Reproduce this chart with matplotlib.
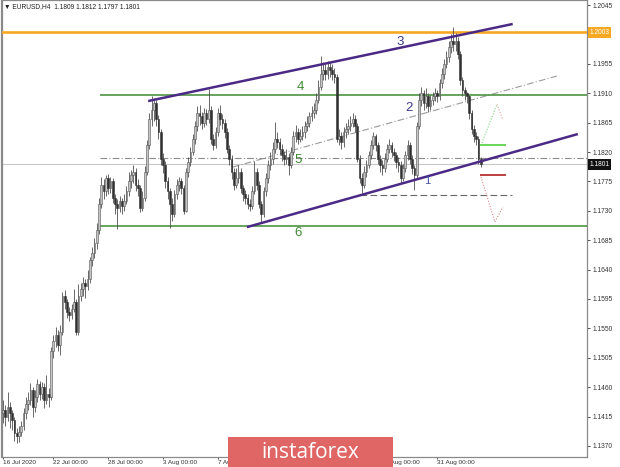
import matplotlib
matplotlib.use('Agg')
from matplotlib import pyplot as plt
from matplotlib.patches import Rectangle

# EURUSD H4 closes, one per bar (16 Jul 2020 -> 3 Sep 2020)
closes = [
    1.1425, 1.1415, 1.1430, 1.1420, 1.1410, 1.1390, 1.1385, 1.1392, 1.1400, 1.1420,
    1.1435, 1.1440, 1.1455, 1.1430, 1.1445, 1.1465, 1.1450, 1.1460, 1.1440, 1.1450,
    1.1445, 1.1515, 1.1530, 1.1540, 1.1525, 1.1545, 1.1600, 1.1590, 1.1575, 1.1570,
    1.1580, 1.1590, 1.1545, 1.1600, 1.1610, 1.1620, 1.1615, 1.1625, 1.1655, 1.1665,
    1.1680, 1.1700, 1.1740, 1.1770, 1.1760, 1.1780, 1.1765, 1.1775, 1.1750, 1.1740,
    1.1735, 1.1745, 1.1738, 1.1745, 1.1760, 1.1775, 1.1785, 1.1790, 1.1770, 1.1765,
    1.1735, 1.1750, 1.1790, 1.1830, 1.1870, 1.1885, 1.1895, 1.1870, 1.1850, 1.1810,
    1.1800, 1.1775, 1.1760, 1.1740, 1.1725, 1.1755, 1.1770, 1.1775, 1.1765, 1.1730,
    1.1790, 1.1805, 1.1820, 1.1840, 1.1860, 1.1880, 1.1875, 1.1865, 1.1880, 1.1870,
    1.1885, 1.1840, 1.1830, 1.1850, 1.1880, 1.1870, 1.1865, 1.1850, 1.1825, 1.1810,
    1.1790, 1.1770, 1.1780, 1.1790, 1.1765, 1.1755, 1.1750, 1.1740, 1.1738, 1.1760,
    1.1790, 1.1770, 1.1740, 1.1725, 1.1760, 1.1780, 1.1800, 1.1810, 1.1825, 1.1840,
    1.1835, 1.1825, 1.1815, 1.1810, 1.1812, 1.1800, 1.1820, 1.1845, 1.1850, 1.1840,
    1.1845, 1.1850, 1.1860, 1.1865, 1.1875, 1.1880, 1.1885, 1.1900, 1.1920, 1.1940,
    1.1945, 1.1940, 1.1950, 1.1945, 1.1940, 1.1935, 1.1840, 1.1845, 1.1835, 1.1850,
    1.1855, 1.1860, 1.1865, 1.1870, 1.1860, 1.1810, 1.1780, 1.1770, 1.1790, 1.1800,
    1.1815, 1.1830, 1.1845, 1.1830, 1.1810, 1.1800, 1.1795, 1.1810, 1.1825, 1.1830,
    1.1820, 1.1815, 1.1805, 1.1800, 1.1780, 1.1795, 1.1815, 1.1830, 1.1810, 1.1795,
    1.1785, 1.1860, 1.1900, 1.1910, 1.1895, 1.1905, 1.1890, 1.1900, 1.1905, 1.1910,
    1.1905, 1.1925, 1.1940, 1.1955, 1.1965, 1.1980, 1.1990, 1.1985, 1.1990, 1.1970,
    1.1930, 1.1915, 1.1910, 1.1905, 1.1880, 1.1855, 1.1845, 1.1840, 1.1809, 1.1801,
]
highs = [
    1.1440, 1.1432, 1.1452, 1.1438, 1.1425, 1.1415, 1.1398, 1.1400, 1.1408, 1.1428,
    1.1445, 1.1452, 1.1466, 1.1460, 1.1455, 1.1472, 1.1470, 1.1468, 1.1466, 1.1478,
    1.1458, 1.1522, 1.1540, 1.1552, 1.1548, 1.1555, 1.1606, 1.1608, 1.1595, 1.1582,
    1.1588, 1.1610, 1.1595, 1.1618, 1.1620, 1.1628, 1.1626, 1.1640, 1.1660, 1.1675,
    1.1688, 1.1712, 1.1750, 1.1782, 1.1778, 1.1785, 1.1786, 1.1782, 1.1780, 1.1756,
    1.1748, 1.1752, 1.1750, 1.1755, 1.1768, 1.1790, 1.1792, 1.1800, 1.1795, 1.1778,
    1.1770, 1.1760, 1.1798, 1.1838, 1.1880, 1.1906, 1.1903, 1.1900, 1.1876, 1.1855,
    1.1818, 1.1806, 1.1782, 1.1765, 1.1750, 1.1762, 1.1778, 1.1782, 1.1780, 1.1770,
    1.1796, 1.1812, 1.1828, 1.1848, 1.1868, 1.1890, 1.1892, 1.1882, 1.1888, 1.1886,
    1.1917, 1.1890, 1.1848, 1.1858, 1.1888, 1.1892, 1.1878, 1.1870, 1.1856, 1.1830,
    1.1815, 1.1795, 1.1795, 1.1800, 1.1795, 1.1770, 1.1762, 1.1756, 1.1748, 1.1768,
    1.1806, 1.1795, 1.1775, 1.1745, 1.1766, 1.1788, 1.1808, 1.1820, 1.1835, 1.1866,
    1.1850, 1.1842, 1.1832, 1.1822, 1.1825, 1.1818, 1.1828, 1.1852, 1.1862, 1.1856,
    1.1855, 1.1860, 1.1868, 1.1875, 1.1882, 1.1890, 1.1895, 1.1910, 1.1930, 1.1967,
    1.1958, 1.1955, 1.1960, 1.1958, 1.1955, 1.1948, 1.1940, 1.1855, 1.1850, 1.1858,
    1.1865, 1.1870, 1.1875, 1.1880, 1.1876, 1.1865, 1.1815, 1.1788, 1.1798, 1.1808,
    1.1822, 1.1838, 1.1850, 1.1848, 1.1835, 1.1815, 1.1808, 1.1818, 1.1832, 1.1840,
    1.1836, 1.1826, 1.1820, 1.1812, 1.1806, 1.1802, 1.1822, 1.1838, 1.1835, 1.1815,
    1.1800, 1.1866, 1.1910, 1.1920, 1.1915, 1.1918, 1.1910, 1.1908, 1.1912, 1.1918,
    1.1915, 1.1932, 1.1948, 1.1962, 1.1975, 1.1990, 1.2000, 1.2011, 1.2002, 1.1996,
    1.1975, 1.1935, 1.1920, 1.1912, 1.1908, 1.1885, 1.1862, 1.1850, 1.1845, 1.1812,
]
lows = [
    1.1405, 1.1400, 1.1408, 1.1398, 1.1395, 1.1378, 1.1374, 1.1376, 1.1385, 1.1395,
    1.1412, 1.1425, 1.1432, 1.1415, 1.1422, 1.1438, 1.1440, 1.1442, 1.1428, 1.1435,
    1.1430, 1.1440, 1.1505, 1.1522, 1.1515, 1.1510, 1.1540, 1.1580, 1.1566, 1.1562,
    1.1565, 1.1575, 1.1540, 1.1540, 1.1592, 1.1600, 1.1596, 1.1608, 1.1620, 1.1645,
    1.1658, 1.1672, 1.1695, 1.1735, 1.1748, 1.1752, 1.1755, 1.1758, 1.1742, 1.1725,
    1.1702, 1.1728, 1.1725, 1.1730, 1.1740, 1.1752, 1.1765, 1.1772, 1.1760, 1.1752,
    1.1728, 1.1730, 1.1745, 1.1785, 1.1825, 1.1860, 1.1868, 1.1860, 1.1840, 1.1800,
    1.1788, 1.1765, 1.1748, 1.1703, 1.1715, 1.1720, 1.1748, 1.1760, 1.1755, 1.1725,
    1.1728, 1.1782, 1.1798, 1.1815, 1.1832, 1.1852, 1.1862, 1.1855, 1.1858, 1.1862,
    1.1865, 1.1832, 1.1823, 1.1826, 1.1845, 1.1862, 1.1855, 1.1842, 1.1818, 1.1800,
    1.1778, 1.1762, 1.1765, 1.1772, 1.1758, 1.1745, 1.1740, 1.1732, 1.1730, 1.1733,
    1.1755, 1.1762, 1.1735, 1.1711, 1.1720, 1.1752, 1.1772, 1.1792, 1.1802, 1.1818,
    1.1826, 1.1815, 1.1806, 1.1800, 1.1802, 1.1785, 1.1795, 1.1815, 1.1836, 1.1832,
    1.1835, 1.1838, 1.1842, 1.1852, 1.1858, 1.1868, 1.1872, 1.1878, 1.1895, 1.1915,
    1.1930, 1.1930, 1.1932, 1.1935, 1.1930, 1.1925, 1.1835, 1.1830, 1.1825, 1.1828,
    1.1842, 1.1848, 1.1852, 1.1858, 1.1850, 1.1805, 1.1772, 1.1757, 1.1765, 1.1782,
    1.1795, 1.1810, 1.1825, 1.1822, 1.1802, 1.1790, 1.1785, 1.1790, 1.1805, 1.1818,
    1.1812, 1.1806, 1.1796, 1.1790, 1.1772, 1.1775, 1.1790, 1.1808, 1.1802, 1.1786,
    1.1762, 1.1780, 1.1855, 1.1890, 1.1885, 1.1888, 1.1882, 1.1884, 1.1892, 1.1898,
    1.1896, 1.1900, 1.1918, 1.1932, 1.1948, 1.1958, 1.1972, 1.1975, 1.1975, 1.1962,
    1.1922, 1.1905, 1.1900, 1.1895, 1.1870, 1.1848, 1.1835, 1.1830, 1.1802, 1.1797,
]
# open of each bar = close of the bar before
opens = [1.1420] + closes[:-1]

# horizontal levels
level_orange = 1.2003
level_4 = 1.1907
level_5 = 1.1811
level_6 = 1.1707
bid = 1.1801
level_dash = 1.1754
target_up = 1.1831
target_dn = 1.1785

# channel lines (bar index, price)
upper_x = [63.5, 223]
upper_y = [1.1898, 1.2016]
lower_x = [106.7, 251.5]
lower_y = [1.1705, 1.18475]
mid_x = [100.6, 242.3]
mid_y = [1.1797, 1.19363]

# scenario arrows
up_x = [209.5, 216.1, 218.7]
up_y = [1.1834, 1.1893, 1.1869]
dn_x = [209.1, 215.2, 218.7]
dn_y = [1.1782, 1.1713, 1.1736]

date_ticks = [0, 22, 46, 70, 94, 118, 142, 166, 190]
date_labels = ['16 Jul 2020', '22 Jul 00:00', '28 Jul 00:00', '3 Aug 00:00', '7 Aug 00:00',
               '13 Aug 00:00', '19 Aug 00:00', '25 Aug 00:00', '31 Aug 00:00']
price_ticks = [1.2045, 1.1955, 1.1910, 1.1865, 1.1820, 1.1775, 1.1730, 1.1685, 1.1640,
               1.1595, 1.1550, 1.1505, 1.1460, 1.1415, 1.1370]

plt.rcParams['font.family'] = ['Liberation Sans', 'DejaVu Sans']

fig = plt.figure(figsize=(6.2, 4.67), dpi=100)
ax = fig.add_axes([2 / 620, 10 / 467, 585 / 620, 457 / 467])
ax.set_xlim(-0.44, 255.5)
ax.set_ylim(1.13531, 1.20527)

# levels
ax.axhline(bid, color='#c8c8c8', lw=0.8, zorder=1)
ax.axhline(level_orange, color='#f7a823', lw=1.9, zorder=3)
ax.hlines([level_4, level_6], 42.5, 256, color='#3f8a33', lw=1.1, zorder=3)
ax.hlines(level_5, 42.5, 256, color='#8c8c8c', lw=0.8, linestyles=(0, (6, 2, 1, 2)), zorder=2)
ax.plot(mid_x, mid_y, color='#9a9a9a', lw=0.8, ls=(0, (6, 2, 1, 2)), zorder=2)
ax.hlines(level_dash, 156, 222.7, color='#666666', lw=0.8, linestyles=(0, (6, 3)), zorder=2)

# candles
for i in range(len(closes)):
    o, h, l, c = opens[i], highs[i], lows[i], closes[i]
    ax.vlines(i, l, h, color='#505050', lw=0.6, zorder=4)
    bot = min(o, c)
    hgt = max(abs(c - o), 0.00008)
    if c >= o:
        ax.add_patch(Rectangle((i - 0.4, bot), 0.8, hgt, facecolor='#c4c4c4',
                               edgecolor='#555555', lw=0.4, zorder=5))
    else:
        ax.add_patch(Rectangle((i - 0.4, bot), 0.8, hgt, facecolor='#303030',
                               edgecolor='#303030', lw=0.4, zorder=5))

# channel
ax.plot(upper_x, upper_y, color='#4b2a86', lw=1.8, zorder=6, solid_capstyle='butt')
ax.plot(lower_x, lower_y, color='#4b2a86', lw=1.8, zorder=6, solid_capstyle='butt')

# targets
ax.hlines(target_up, 208.7, 220, color='#6ad45a', lw=1.4, zorder=6)
ax.hlines(target_dn, 208.7, 220, color='#b02020', lw=1.2, zorder=6)
ax.plot(up_x[:2], up_y[:2], color='#7fd67a', lw=0.8, ls=(0, (1, 1.5)), zorder=6)
ax.plot(up_x[1:], up_y[1:], color='#e39a9a', lw=0.8, ls=(0, (1, 1.5)), zorder=6)
ax.plot(dn_x, dn_y, color='#d88a8a', lw=0.8, ls=(0, (1, 1.5)), zorder=6)

# wave labels
ax.text(173.7, 1.1988, '3', color='#3b3b8a', fontsize=9.5, ha='center', va='center', zorder=7)
ax.text(177.6, 1.1887, '2', color='#3b3b8a', fontsize=9.5, ha='center', va='center', zorder=7)
ax.text(185.5, 1.1776, '1', color='#3b4fa0', fontsize=8, ha='center', va='center', zorder=7)
ax.text(129.9, 1.1920, '4', color='#3f8a33', fontsize=9.5, ha='center', va='center', zorder=7)
ax.text(129.0, 1.1808, '5', color='#3f8a33', fontsize=9.5, ha='center', va='center', zorder=7)
ax.text(129.0, 1.1696, '6', color='#3f8a33', fontsize=9.5, ha='center', va='center', zorder=7)

# axes styling
for s in ax.spines.values():
    s.set_color('#8a8a8a')
    s.set_linewidth(0.9)
ax.spines['left'].set_linewidth(1.6)
ax.yaxis.tick_right()
ax.set_yticks(price_ticks)
ax.set_yticklabels(['%.4f' % p for p in price_ticks])
ax.tick_params(axis='y', labelsize=4.8, length=2, width=0.6, pad=2, colors='#333333')
ax.set_xticks(date_ticks)
ax.set_xticklabels(date_labels, ha='left')
ax.tick_params(axis='x', labelsize=4.6, length=1.5, width=0.6, pad=0.6, colors='#333333')

tr = ax.get_yaxis_transform()
ax.text(1.004, level_orange, '1.2003', transform=tr, fontsize=4.8, color='white',
        va='center', ha='left', bbox=dict(boxstyle='square,pad=0.25', fc='#f7a823', ec='none'),
        zorder=8, clip_on=False)
ax.text(1.004, bid, '1.1801', transform=tr, fontsize=4.8, color='white',
        va='center', ha='left', bbox=dict(boxstyle='square,pad=0.25', fc='#111111', ec='none'),
        zorder=8, clip_on=False)

fig.text(4 / 620, 1 - 7 / 467, '\u25bc EURUSD,H4  1.1809 1.1812 1.1797 1.1801', fontsize=4.8,
         color='#222222', va='center', ha='left')

# watermark
fig.patches.append(Rectangle((228 / 620, 0), 165 / 620, 30 / 467, transform=fig.transFigure,
                             facecolor='#e06666', edgecolor='none', zorder=10))
fig.text(310 / 620, 15 / 467, 'instaforex', fontsize=15, color='white', ha='center',
         va='center', family='Open Sans', zorder=11)

fig.savefig('out.png', dpi=100)
